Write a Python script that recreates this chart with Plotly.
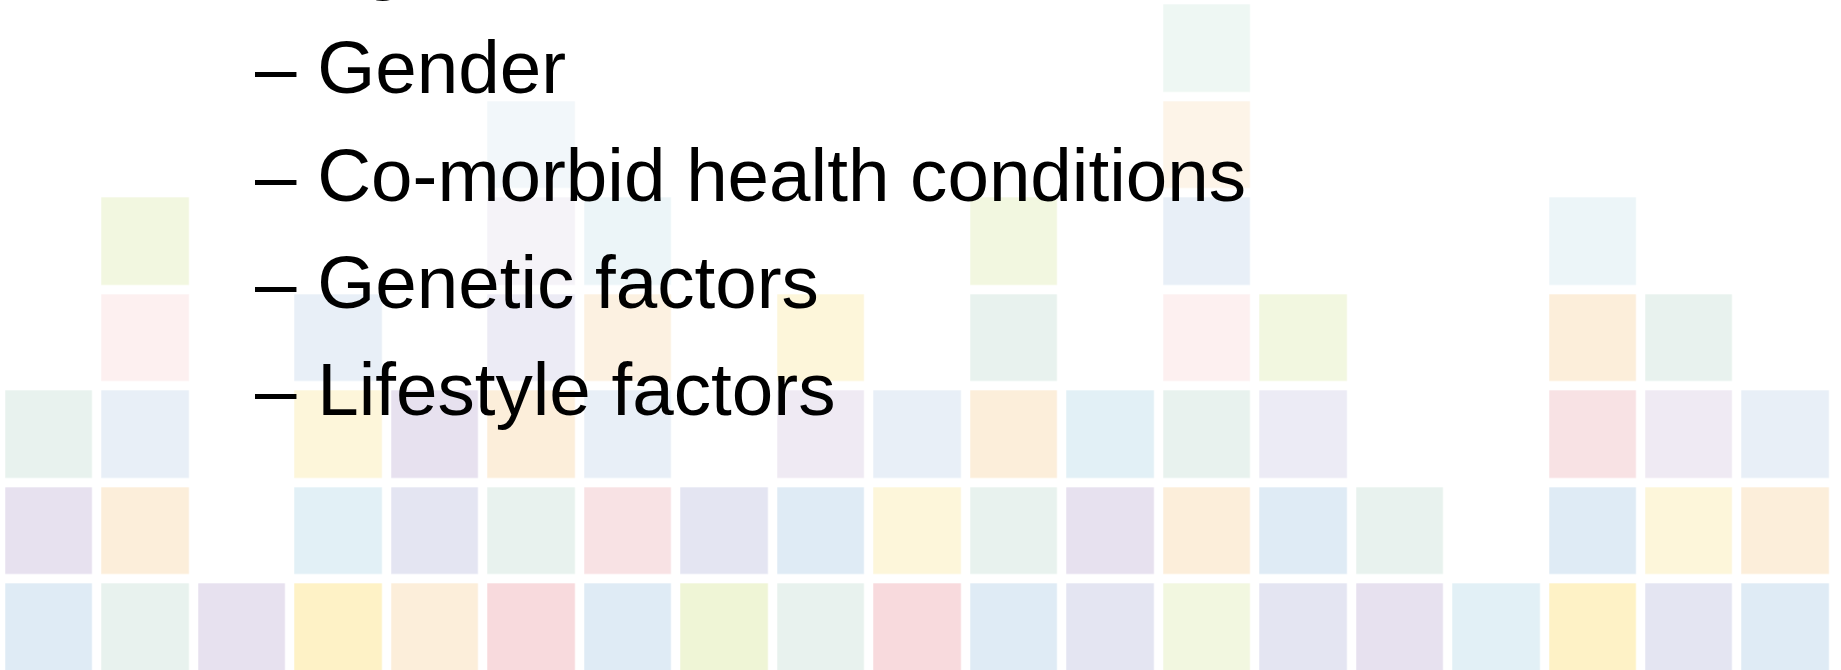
import plotly.graph_objects as go

# ---- data -------------------------------------------------------------
palette = {
    "blue": "#DFEBF5", "blue_l": "#E8EFF7", "blue_xl": "#F2F7FA",
    "cyan": "#E2F0F6", "cyan_l": "#ECF5F8",
    "green": "#E8F2EE", "green_l": "#EEF7F3",
    "purple": "#E7E1EF", "purple_l": "#EFEAF3", "purple_xl": "#F5F3F8",
    "lav": "#E4E5F2", "lav_l": "#ECEBF5",
    "orange": "#FCEEDA", "orange_m": "#FCF1E1", "orange_l": "#FDF4E8",
    "pink_l": "#FDF0F0", "pink": "#F8E2E4", "red": "#F8DADD",
    "yellow": "#FEF2C6", "yellow_l": "#FDF6DA",
    "yg": "#EFF5D6", "yg_l": "#F2F7E0",
}

# each column listed bottom -> top
col00 = ["blue", "purple", "green"]
col01 = ["green", "orange", "blue_l", "pink_l", "yg_l"]
col02 = ["purple"]
col03 = ["yellow", "cyan", "yellow_l", "blue_l"]
col04 = ["orange", "lav", "purple"]
col05 = ["red", "green", "orange", "lav_l", "purple_xl", "blue_xl"]
col06 = ["blue", "pink", "blue_l", "orange_m", "cyan_l"]
col07 = ["yg", "lav"]
col08 = ["green", "blue", "purple_l", "yellow_l"]
col09 = ["red", "yellow_l", "blue_l"]
col10 = ["blue", "green", "orange", "green", "yg_l"]
col11 = ["lav", "purple", "cyan"]
col12 = ["yg_l", "orange", "green", "pink_l", "blue_l", "orange_l", "green_l"]
col13 = ["lav", "blue", "lav_l", "yg_l"]
col14 = ["purple", "green"]
col15 = ["cyan"]
col16 = ["yellow", "blue", "pink", "orange", "cyan_l"]
col17 = ["lav", "yellow_l", "purple_l", "green"]
col18 = ["blue", "orange", "blue_l"]

columns = [col00, col01, col02, col03, col04, col05, col06, col07, col08, col09,
           col10, col11, col12, col13, col14, col15, col16, col17, col18]
n_rows = 7

bullets = ["– Age", "– Gender", "– Co-morbid health conditions",
           "– Genetic factors", "– Lifestyle factors"]

# ---- build ------------------------------------------------------------
keys = list(palette.keys())
n = len(keys)
colorscale = [[i / (n - 1), palette[k]] for i, k in enumerate(keys)]

z = [[None] * len(columns) for _ in range(n_rows)]
for ci, col in enumerate(columns):
    for ri, key in enumerate(col):
        z[ri][ci] = keys.index(key)

W, H = 1841, 670
fig = go.Figure(go.Heatmap(
    z=z, x=list(range(len(columns))), y=list(range(n_rows)),
    colorscale=colorscale, zmin=0, zmax=n - 1, showscale=False,
    xgap=9.3, ygap=9.3, hoverinfo="skip",
))

fig.update_layout(
    width=W, height=H, margin=dict(l=0, r=0, t=0, b=0, pad=0),
    paper_bgcolor="white", plot_bgcolor="white",
    xaxis=dict(visible=False, range=[-0.513, 18.571], fixedrange=True),
    yaxis=dict(visible=False, range=[-0.436, 6.503], fixedrange=True),
    showlegend=False,
)

fs = 74.6
baseline0 = -14.0
step = 107.3
for i, txt in enumerate(bullets):
    base = baseline0 + i * step
    mid = base - 0.3465 * fs
    fig.add_annotation(
        text=txt, xref="paper", yref="paper",
        x=254 / W, y=1 - mid / H, xanchor="left", yanchor="middle",
        showarrow=False, borderpad=0,
        font=dict(family="Liberation Sans, Arial, sans-serif", size=fs, color="black"),
    )

fig.write_html("out.html", config={"displayModeBar": False},
               post_script="document.body.style.margin='0';document.body.style.overflow='hidden';")
